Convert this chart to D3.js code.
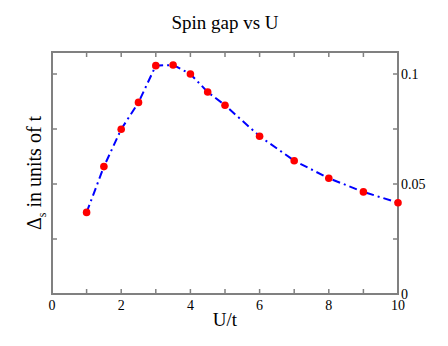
<!DOCTYPE html>
<html>
<head>
<meta charset="utf-8">
<script src="https://cdn.jsdelivr.net/npm/d3@7/dist/d3.min.js"></script>
<style>
  body { margin: 0; background: #fff; }
  text { font-family: "Liberation Serif", "DejaVu Serif", serif; fill: #000; }
</style>
</head>
<body>
<svg width="448" height="346"></svg>
<script>
// data
var uValues = [1, 1.5, 2, 2.5, 3, 3.5, 4, 4.5, 5, 6, 7, 8, 9, 10];
var gapValues = [0.0371, 0.0579, 0.0749, 0.0871, 0.1038, 0.1041, 0.1000, 0.0918, 0.0858,
                 0.0717, 0.0606, 0.0526, 0.0464, 0.0415];
var xTickLabels = [0, 2, 4, 6, 8, 10];
var yTickLabels = [0, 0.05, 0.1];

var svg = d3.select("svg"),
    pLeft = 52, pRight = 398, pTop = 52, pBottom = 294;

var x = d3.scaleLinear().domain([0, 10]).range([pLeft, pRight]);
var y = d3.scaleLinear().domain([0, 0.11]).range([pBottom, pTop]);

var axisColor = "#808080";
var g = svg.append("g");

// inward ticks on all four sides
var xMinor = d3.range(0, 11, 1);
var yMinor = d3.range(0, 0.1001, 0.025);
var tl = 5;

g.selectAll(".xtb").data(xMinor).enter().append("line")
    .attr("x1", function(d) { return x(d); }).attr("x2", function(d) { return x(d); })
    .attr("y1", pBottom).attr("y2", pBottom - tl)
    .attr("stroke", axisColor).attr("stroke-width", 1.5);
g.selectAll(".xtt").data(xMinor).enter().append("line")
    .attr("x1", function(d) { return x(d); }).attr("x2", function(d) { return x(d); })
    .attr("y1", pTop).attr("y2", pTop + tl)
    .attr("stroke", axisColor).attr("stroke-width", 1.5);
g.selectAll(".ytl").data(yMinor).enter().append("line")
    .attr("x1", pLeft).attr("x2", pLeft + tl)
    .attr("y1", function(d) { return y(d); }).attr("y2", function(d) { return y(d); })
    .attr("stroke", axisColor).attr("stroke-width", 1.5);
g.selectAll(".ytr").data(yMinor).enter().append("line")
    .attr("x1", pRight).attr("x2", pRight - tl)
    .attr("y1", function(d) { return y(d); }).attr("y2", function(d) { return y(d); })
    .attr("stroke", axisColor).attr("stroke-width", 1.5);

g.append("rect")
    .attr("x", pLeft).attr("y", pTop)
    .attr("width", pRight - pLeft).attr("height", pBottom - pTop)
    .attr("fill", "none").attr("stroke", axisColor).attr("stroke-width", 2);

// tick labels
g.selectAll(".xl").data(xTickLabels).enter().append("text")
    .attr("x", function(d) { return x(d); })
    .attr("y", pBottom + 16)
    .attr("text-anchor", "middle")
    .style("font-size", "14px")
    .text(function(d) { return d; });

g.selectAll(".yl").data(yTickLabels).enter().append("text")
    .attr("x", pRight + 3)
    .attr("y", function(d) { return y(d) + 5; })
    .style("font-size", "14px")
    .text(function(d) { return d; });

// titles
svg.append("text")
    .attr("x", 225).attr("y", 29)
    .attr("text-anchor", "middle")
    .style("font-size", "19px")
    .text("Spin gap vs U");

svg.append("text")
    .attr("x", 225).attr("y", 326)
    .attr("text-anchor", "middle")
    .style("font-size", "19px")
    .text("U/t");

var yl = svg.append("text")
    .attr("transform", "translate(41,173) rotate(-90)")
    .attr("text-anchor", "middle")
    .style("font-size", "20px");
yl.append("tspan").text("\u0394");
yl.append("tspan").attr("dy", 5).style("font-size", "12px").text("s");
yl.append("tspan").attr("dy", -5).text(" in units of t");

// series
var pts = uValues.map(function(u, i) { return [u, gapValues[i]]; });
var line = d3.line()
    .x(function(d) { return x(d[0]); })
    .y(function(d) { return y(d[1]); });

svg.append("path")
    .datum(pts)
    .attr("d", line)
    .attr("fill", "none")
    .attr("stroke", "#0000ff")
    .attr("stroke-width", 2)
    .attr("stroke-dasharray", "8,4,2,4");

svg.selectAll(".pt").data(pts).enter().append("circle")
    .attr("cx", function(d) { return x(d[0]); })
    .attr("cy", function(d) { return y(d[1]); })
    .attr("r", 3.8)
    .attr("fill", "#ff0000");
</script>
</body>
</html>
